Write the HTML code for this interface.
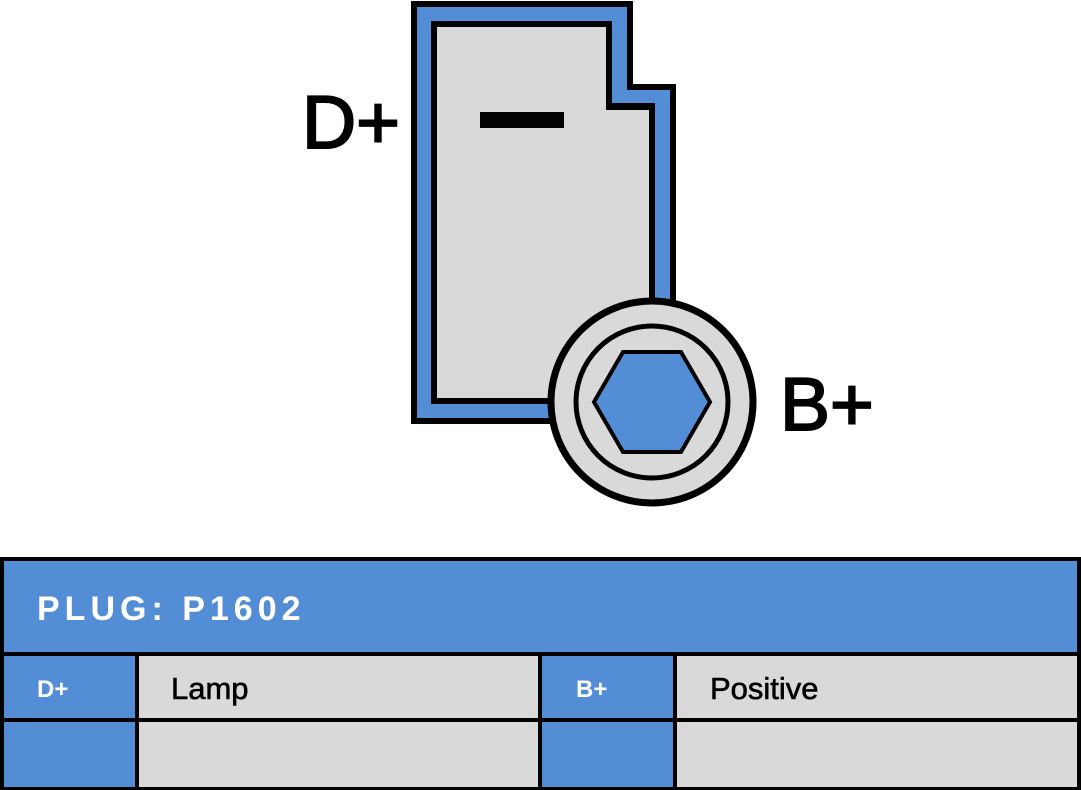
<!DOCTYPE html>
<html><head><meta charset="utf-8"><style>
html,body{margin:0;padding:0;background:#fff;}
body{width:1081px;height:790px;overflow:hidden;position:relative;font-family:"Liberation Sans",sans-serif;}
svg{position:absolute;left:0;top:0;}
</style></head><body>
<svg width="1081" height="790" viewBox="0 0 1081 790">
<polygon points="411,1 633,1 633,84 676,84 676,424 411,424" fill="#000"/>
<polygon points="417,7 627,7 627,90 670,90 670,418 417,418" fill="#538dd5"/>
<polygon points="431,21 612,21 612,103 655,103 655,404 431,404" fill="#000"/>
<polygon points="437,27 606,27 606,110 649,110 649,398 437,398" fill="#d9d9d9"/>
<rect x="480" y="112" width="84" height="16" fill="#000"/>
<circle cx="652" cy="402" r="101" fill="#d9d9d9" stroke="#000" stroke-width="7"/>
<circle cx="652" cy="402" r="76" fill="#d9d9d9" stroke="#000" stroke-width="5"/>
<polygon points="594,402 623,352 681,352 710,402 681,452 623,452" fill="#538dd5" stroke="#000" stroke-width="4"/>
<text x="302" y="148" font-size="75" fill="#000" stroke="#000" stroke-width="2">D+</text>
<text x="780" y="430" font-size="75" fill="#000" stroke="#000" stroke-width="2">B+</text>
<rect x="0" y="557" width="1081" height="233" fill="#000"/>
<rect x="4" y="561" width="1073" height="91" fill="#538dd5"/>
<rect x="4" y="656" width="131" height="62" fill="#538dd5"/>
<rect x="139" y="656" width="399" height="62" fill="#d9d9d9"/>
<rect x="542" y="656" width="131" height="62" fill="#538dd5"/>
<rect x="677" y="656" width="400" height="62" fill="#d9d9d9"/>
<rect x="4" y="722" width="131" height="65" fill="#538dd5"/>
<rect x="139" y="722" width="399" height="65" fill="#d9d9d9"/>
<rect x="542" y="722" width="131" height="65" fill="#538dd5"/>
<rect x="677" y="722" width="400" height="65" fill="#d9d9d9"/>
<text x="37" y="620" font-size="34" font-weight="bold" fill="#fff" letter-spacing="5">PLUG: P1602</text>
<text x="37" y="697" font-size="24" font-weight="bold" fill="#fff">D+</text>
<text x="171" y="699" font-size="31" fill="#000" stroke="#000" stroke-width="0.6">Lamp</text>
<text x="576" y="697" font-size="24" font-weight="bold" fill="#fff">B+</text>
<text x="710" y="699" font-size="31" fill="#000" stroke="#000" stroke-width="0.6">Positive</text>
</svg>
</body></html>
